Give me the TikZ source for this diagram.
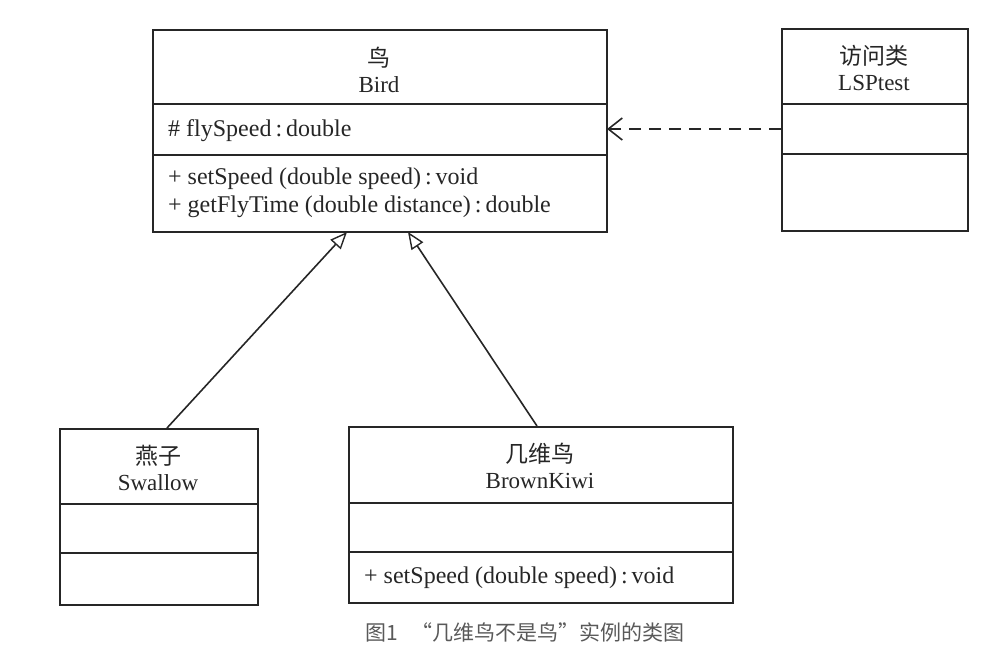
\documentclass[tikz,border=0pt]{standalone}
\usepackage{fontspec}
\setmainfont{Liberation Serif}
\newfontfamily\cjk{Noto Sans CJK SC}
\usetikzlibrary{arrows.meta}
\begin{document}
\begin{tikzpicture}[x=1pt,y=-1pt,
  classbox/.style={draw=black!85, line width=2pt, inner sep=0pt, anchor=north west},
  divider/.style={draw=black!85, line width=1.8pt},
  ctext/.style={font=\fontsize{23}{26}\selectfont, align=center, inner sep=0pt, text=black!85},
  ltext/.style={font=\fontsize{24}{28}\selectfont, align=left, anchor=west, inner sep=0pt, text=black!85},
  gen/.style={draw=black!85, line width=1.6pt, -{Triangle[open, length=17pt, width=14pt, line width=1.4pt]}},
  dep/.style={draw=black!85, line width=2pt, dash pattern=on 12pt off 8pt, -{Straight Barb[length=14pt, width=22pt, line width=1.6pt]}},
  caption/.style={font=\cjk\fontsize{21}{24}\selectfont, text=black!65, inner sep=0pt}]
\useasboundingbox (0,0) rectangle (1000,662);
% Bird
\node[classbox, minimum width=454pt, minimum height=202pt] (bird) at (152,29) {};
\draw[divider] (152,104) coordinate (bd1a) -- (606,104) coordinate (bd1b);
\draw[divider] (152,155) coordinate (bd2a) -- (606,155) coordinate (bd2b);
\node[ctext] (birdname) at (379,70) {{\cjk 鸟}\\Bird};
\node[ltext] (birdattr) at (168,131) {\# flySpeed\,:\,double};
\node[ltext] (birdops) at (168,193) {+ setSpeed (double speed)\,:\,void\\+ getFlyTime (double distance)\,:\,double};
% LSPtest
\node[classbox, minimum width=186pt, minimum height=202pt] (lsp) at (781,28) {};
\draw[divider] (781,104) -- (967,104);
\draw[divider] (781,154) -- (967,154);
\node[ctext] (lspname) at (874,68) {{\cjk 访问类}\\LSPtest};
% Swallow
\node[classbox, minimum width=198pt, minimum height=176pt] (swallow) at (59,428) {};
\draw[divider] (59,504) -- (257,504);
\draw[divider] (59,553) -- (257,553);
\node[ctext] (swname) at (158,468) {{\cjk 燕子}\\Swallow};
% BrownKiwi
\node[classbox, minimum width=384pt, minimum height=176pt] (kiwi) at (348,426) {};
\draw[divider] (348,503) -- (732,503);
\draw[divider] (348,552) -- (732,552);
\node[ctext] (kiname) at (540,466) {{\cjk 几维鸟}\\BrownKiwi};
\node[ltext] (kiops) at (364,578) {+ setSpeed (double speed)\,:\,void};
% connectors
\coordinate (s1) at (167,428);
\coordinate (b1) at (347,232);
\coordinate (k1) at (537,426);
\coordinate (b2) at (408,232);
\coordinate (l1) at (781,129);
\coordinate (b3) at (607,129);
\draw[gen] (s1) -- (b1);
\draw[gen] (k1) -- (b2);
\draw[dep] (l1) -- (b3);
% caption
\node[caption] (cap) at (525,632) {图1\hspace{0.6em}“几维鸟不是鸟”实例的类图};
\end{tikzpicture}
\end{document}
